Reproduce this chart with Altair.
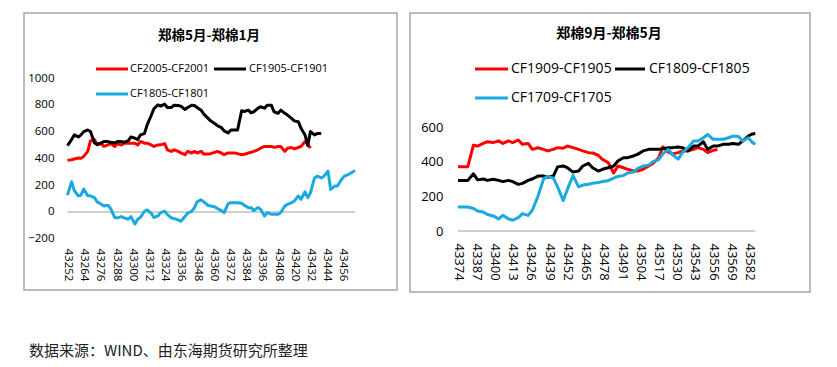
import altair as alt
import pandas as pd

LEFT_TITLE = "郑棉5月-郑棉1月"
RIGHT_TITLE = "郑棉9月-郑棉5月"
LEFT_NAMES = ["CF2005-CF2001", "CF1905-CF1901", "CF1805-CF1801"]
RIGHT_NAMES = ["CF1909-CF1905", "CF1809-CF1805", "CF1709-CF1705"]
COLORS = ["#FF0000", "#000000", "#1BA9E1"]
SOURCE = "数据来源：WIND、由东海期货研究所整理"

LEFT_XTICKS = [43252, 43264, 43276, 43288, 43300, 43312, 43324, 43336, 43348,
               43360, 43372, 43384, 43396, 43408, 43420, 43432, 43444, 43456]
LEFT_YTICKS = [-200, 0, 200, 400, 600, 800, 1000]
RIGHT_XTICKS = [43374, 43387, 43400, 43413, 43426, 43439, 43452, 43465, 43478,
                43491, 43504, 43517, 43530, 43543, 43556, 43569, 43582]
RIGHT_YTICKS = [0, 200, 400, 600]

LEFT_X = [43252, 43255, 43257, 43260, 43262, 43264, 43267, 43269, 43272, 43274,
          43277, 43279, 43282, 43284, 43287, 43289, 43292, 43294, 43297, 43299,
          43302, 43304, 43306, 43309, 43311, 43314, 43316, 43319, 43321, 43324,
          43326, 43329, 43331, 43334, 43336, 43339, 43341, 43344, 43346, 43348,
          43351, 43353, 43356, 43358, 43361, 43363, 43366, 43368, 43371, 43373,
          43376, 43378, 43381, 43383, 43386, 43388, 43390, 43393, 43395, 43398,
          43400, 43403, 43405, 43408, 43410, 43413, 43415, 43418, 43420, 43423,
          43425, 43428, 43430, 43432, 43435, 43437, 43440, 43442, 43445, 43447,
          43450, 43452, 43455, 43457, 43460, 43462, 43465]
LEFT_RED = [385, 390, 395, 402, 400, 415, 452, 530, 540, 501,
            510, 489, 500, 510, 489, 510, 500, 513, 513, 513,
            513, 500, 526, 513, 513, 500, 489, 500, 501, 510,
            464, 452, 464, 452, 440, 427, 452, 440, 452, 440,
            452, 432, 432, 435, 445, 452, 440, 427, 440, 440,
            440, 435, 427, 430, 440, 445, 452, 464, 476, 489,
            489, 489, 482, 489, 489, 452, 476, 481, 471, 481,
            489, 526, 505, 476]
LEFT_BLACK = [495, 540, 575, 560, 575, 600, 612, 600, 515, 505,
              515, 525, 525, 520, 515, 525, 525, 520, 530, 560,
              550, 540, 575, 585, 650, 720, 770, 800, 790, 805,
              780, 780, 797, 795, 790, 765, 780, 797, 795, 780,
              760, 730, 700, 680, 660, 645, 630, 605, 590, 612,
              612, 612, 755, 750, 760, 740, 748, 773, 785, 775,
              797, 797, 748, 736, 760, 736, 723, 699, 680, 674,
              625, 575, 495, 600, 575, 585, 585]
LEFT_BLUE = [125, 225, 160, 120, 125, 170, 120, 120, 106, 75,
             57, 44, 50, 25, -42, -45, -35, -45, -55, -35,
             -90, -55, -42, 5, 15, -10, -42, -30, -5, 5,
             -20, -45, -50, -60, -70, -35, -10, 5, 30, 75,
             90, 75, 50, 44, 38, 25, 10, -5, 60, 69,
             69, 69, 65, 50, 32, 32, 10, 32, 20, -30,
             -5, -17, -17, -17, -5, 44, 57, 69, 81, 119,
             94, 150, 106, 143, 254, 267, 254, 267, 304, 168,
             193, 193, 242, 267, 279, 291, 309]

RIGHT_X = [43374, 43378, 43381, 43385, 43388, 43392, 43395, 43399, 43403, 43406,
           43410, 43413, 43417, 43420, 43424, 43427, 43431, 43435, 43438, 43442,
           43445, 43449, 43452, 43456, 43460, 43463, 43467, 43470, 43474, 43477,
           43481, 43485, 43488, 43492, 43495, 43499, 43502, 43506, 43510, 43513,
           43517, 43520, 43524, 43527, 43531, 43534, 43538, 43542, 43545, 43549,
           43552, 43556, 43559, 43563, 43567, 43570, 43574, 43577, 43581, 43584,
           43586]
RIGHT_RED = [371, 371, 371, 495, 490, 505, 515, 510, 520, 505,
             520, 510, 525, 500, 505, 471, 480, 471, 462, 471,
             481, 478, 490, 481, 471, 462, 452, 450, 437, 413,
             395, 335, 375, 365, 356, 346, 346, 356, 375, 390,
             420, 485, 455, 445, 452, 462, 462, 471, 481, 471,
             452, 465, 470]
RIGHT_BLACK = [292, 292, 292, 330, 295, 300, 292, 298, 292, 285,
               292, 285, 269, 275, 292, 300, 317, 317, 310, 317,
               370, 375, 365, 340, 346, 375, 390, 365, 346, 356,
               365, 375, 404, 423, 423, 433, 442, 462, 471, 471,
               471, 475, 481, 481, 485, 481, 462, 490, 490, 515,
               471, 490, 490, 500, 500, 505, 500, 519, 548, 560,
               563]
RIGHT_BLUE = [138, 138, 138, 130, 115, 110, 95, 87, 70, 90,
              70, 62, 77, 100, 90, 120, 200, 300, 315, 305,
              255, 175, 240, 320, 255, 265, 270, 275, 280, 285,
              290, 305, 315, 320, 335, 340, 360, 375, 380, 400,
              410, 445, 471, 440, 415, 452, 481, 519, 519, 538,
              557, 529, 529, 529, 538, 548, 545, 519, 538, 510,
              500]

FONT = "Open Sans"
CJK = "Noto Sans CJK SC"
ONE = pd.DataFrame({"k": [0]})


def panel(xs, series, names, W, H, xdom, xrng, ydom, yrng, xticks, yticks,
          fs, xoff, yoff, title, tpos, tsize, leg, lsize, footer=False):
    xaxis = alt.Axis(values=xticks, format="d", labelAngle=90, grid=False,
                     domain=False, ticks=False, tickSize=0, labelPadding=0,
                     offset=xoff, labelFontSize=fs, labelFont=FONT,
                     labelColor="#000000", labelFlush=False, labelOverlap=False,
                     labelSeparation=0, labelBound=False, title=None)
    yaxis = alt.Axis(values=yticks, format="d", grid=False, domain=False,
                     ticks=False, tickSize=0, labelPadding=0, offset=yoff,
                     labelFontSize=fs, labelFont=FONT, labelColor="#000000",
                     labelOverlap=False, title=None)
    xsc = alt.Scale(domain=xdom, range=xrng, nice=False, zero=False)
    ysc = alt.Scale(domain=ydom, range=yrng, nice=False, zero=False)
    xenc = alt.X("x:Q", scale=xsc, axis=xaxis)
    yenc = alt.Y("v:Q", scale=ysc, axis=yaxis)

    zdf = pd.DataFrame({"x": [xdom[0]], "x2": [xdom[1]], "v": [0]})
    zero = alt.Chart(zdf).mark_rule(color="#BFBFBF", strokeWidth=1.5).encode(
        x=xenc, x2="x2:Q", y=yenc)
    layers = [zero]
    for vals, col in zip(series, COLORS):
        df = pd.DataFrame({"x": xs[:len(vals)], "v": vals})
        layers.append(alt.Chart(df).mark_line(color=col, strokeWidth=3,
                                              strokeJoin="round").encode(x=xenc, y=yenc))
    layers.append(alt.Chart(ONE).mark_text(text=title, font=CJK, fontSize=tsize,
                                           fontWeight="bold", align="center",
                                           baseline="middle", color="#000000").encode(
        x=alt.value(tpos[0]), y=alt.value(tpos[1])))
    for (x1, x2, y, tx), name, col in zip(leg, names, COLORS):
        layers.append(alt.Chart(ONE).mark_rule(color=col, strokeWidth=3).encode(
            x=alt.value(x1), x2=alt.value(x2), y=alt.value(y)))
        layers.append(alt.Chart(ONE).mark_text(text=name, font=FONT, fontSize=lsize,
                                               align="left", baseline="middle",
                                               color="#000000").encode(
            x=alt.value(tx), y=alt.value(y)))
    if footer:
        layers.append(alt.Chart(ONE).mark_text(text=SOURCE, font=CJK, fontSize=15,
                                               align="left", baseline="middle",
                                               color="#222222").encode(
            x=alt.value(5), y=alt.value(338)))
    return alt.layer(*layers).properties(width=W, height=H)


left = panel(LEFT_X, [LEFT_RED, LEFT_BLACK, LEFT_BLUE], LEFT_NAMES, 373, 277,
             [43252, 43465], [43.5, 331], [-200, 1000], [225.7, 65],
             LEFT_XTICKS, LEFT_YTICKS, 11.5, -42, -30,
             LEFT_TITLE, (185, 23), 13.5,
             [(72, 104, 56, 106), (190, 222, 56, 225), (72, 104, 81, 106)], 11,
             footer=True)
right = panel(RIGHT_X, [RIGHT_RED, RIGHT_BLACK, RIGHT_BLUE], RIGHT_NAMES, 400, 279,
              [43374, 43586], [48, 345.3], [0, 600], [218, 114],
              RIGHT_XTICKS, RIGHT_YTICKS, 13, -49, -33,
              RIGHT_TITLE, (199, 21), 14,
              [(65, 98, 56, 101), (205, 235, 56, 239), (65, 98, 85, 101)], 14)

chart = alt.hconcat(left, right, spacing=11).properties(
    padding={"left": 15, "top": 4, "right": 0, "bottom": 0},
    background="white",
).configure_view(stroke="#A6A6A6", strokeWidth=1.5)

chart.save("out.html", embed_options={"renderer": "svg", "actions": False})
